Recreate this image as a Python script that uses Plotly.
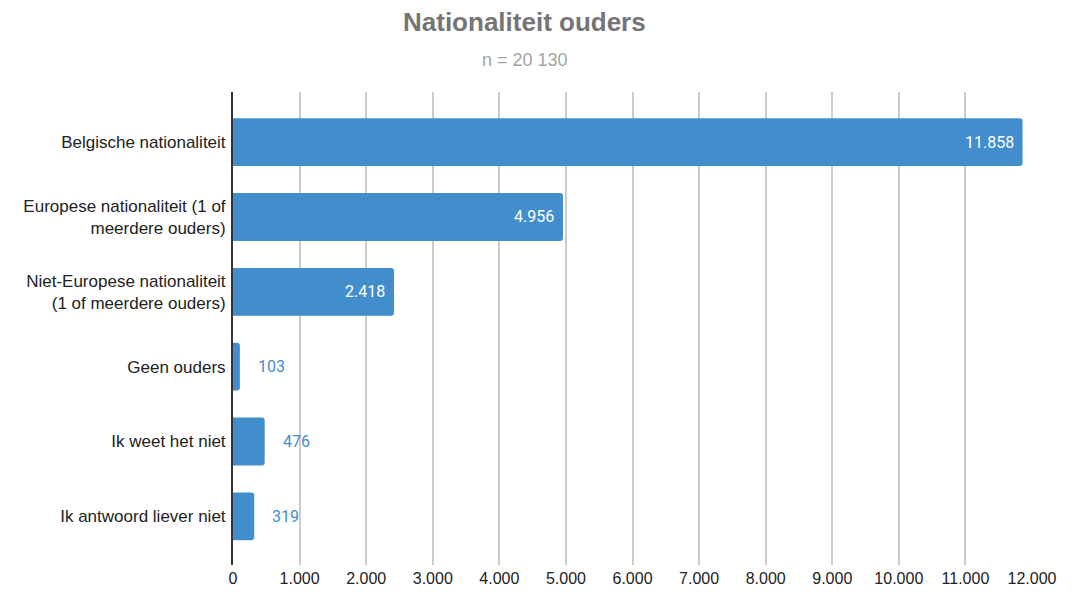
import plotly.graph_objects as go

categories = [
    "Belgische nationaliteit",
    "Europese nationaliteit (1 of<br>meerdere ouders)",
    "Niet-Europese nationaliteit<br>(1 of meerdere ouders)",
    "Geen ouders",
    "Ik weet het niet",
    "Ik antwoord liever niet",
]
counts = [11858, 4956, 2418, 103, 476, 319]
x_ticks = list(range(0, 13000, 1000))
x_tick_labels = ["0"] + [f"{v // 1000}.000" for v in x_ticks[1:]]

BLUE = "#428ecd"


def fmt(v):
    return f"{v:,}".replace(",", ".")


fig = go.Figure(
    go.Bar(
        y=categories,
        x=counts,
        orientation="h",
        marker=dict(color=BLUE, line=dict(width=0)),
        width=0.64,
        hoverinfo="x+y",
    )
)

# value labels: white inside long bars, blue next to short ones
for cat, v in zip(categories, counts):
    inside = v > 1000
    fig.add_annotation(
        x=v, y=cat, xref="x", yref="y",
        text=fmt(v),
        showarrow=False,
        xanchor="right" if inside else "left",
        xshift=-7 if inside else 16,
        font=dict(family="Roboto", size=16, color="white" if inside else BLUE),
    )

fig.add_annotation(
    x=0.365, y=1.181, xref="paper", yref="paper",
    text="<b>Nationaliteit ouders</b>", showarrow=False,
    xanchor="center", yanchor="top", borderpad=0,
    font=dict(family="Liberation Sans", size=26, color="#757575"),
)
fig.add_annotation(
    x=0.365, y=1.068, xref="paper", yref="paper",
    text="n = 20 130", showarrow=False,
    xanchor="center", yanchor="middle",
    font=dict(family="Liberation Sans", size=18, color="#a3a3a3"),
)

# the page body adds an 8px offset, so the figure is a bit smaller than the window
fig.update_layout(
    width=1078, height=584,
    margin=dict(l=225, r=54, t=84, b=27),
    paper_bgcolor="white", plot_bgcolor="white",
    showlegend=False,
    barcornerradius=3,
    font=dict(family="Liberation Sans", color="#222222"),
)
fig.update_xaxes(
    range=[0, 12000],
    tickvals=x_ticks, ticktext=x_tick_labels,
    showgrid=True, gridcolor="#cccccc", gridwidth=1.5,
    zeroline=False, showline=False,
    tickfont=dict(size=16, color="#222222"),
    ticks="", ticklabelstandoff=2,
    automargin=False,
)
fig.update_yaxes(
    type="category",
    range=[5.65, -0.67],
    showgrid=False, zeroline=False,
    showline=True, linecolor="#333333", linewidth=2,
    tickfont=dict(size=17, color="#222222"),
    ticks="", ticklabelstandoff=2,
    automargin=False,
)

fig.write_html("out.html")
